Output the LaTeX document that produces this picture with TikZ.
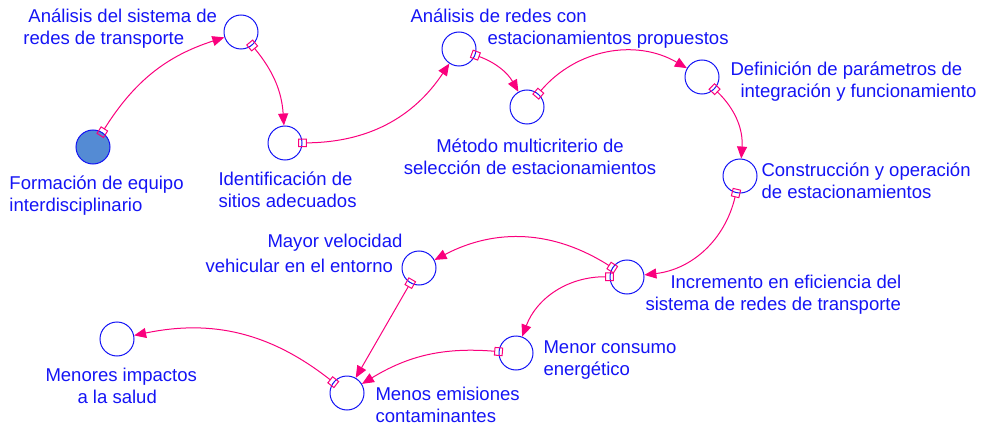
\documentclass[tikz,border=0pt]{standalone}
\usepackage{fontspec}
\setmainfont{Liberation Sans}
\usetikzlibrary{arrows.meta}
\definecolor{vblue}{RGB}{20,20,245}
\definecolor{vpink}{RGB}{250,0,125}
\tikzset{
var/.style={draw=vblue, circle, minimum size=25.5pt, inner sep=0pt, line width=0.75pt},
link/.style={draw=vpink, line width=0.75pt, arrows={Square[open,length=6.5pt,width=6.5pt]-Triangle[length=9pt,width=7.5pt]}, shorten <=-3.25pt},
lbl/.style={font=\fontsize{13.9}{16.5}\selectfont, text=vblue, inner sep=0pt, align=left, anchor=base west}}
\tikzset{every picture/.style={line width=0.75pt}}

\begin{document}
\begin{tikzpicture}[x=0.75pt,y=0.75pt,yscale=-1,xscale=1]
\useasboundingbox (0,0) rectangle (981,424);

%Shape: Circle
\draw (93,147) node [var, fill={rgb,255:red,84;green,139;blue,212}] (equipo) {};
%Shape: Circle
\draw (241,32) node [var] (analisis) {};
%Shape: Circle
\draw (285,143) node [var] (sitios) {};
%Shape: Circle
\draw (459,49) node [var] (redes) {};
%Shape: Circle
\draw (527,107) node [var] (metodo) {};
%Shape: Circle
\draw (702,77) node [var] (param) {};
%Shape: Circle
\draw (740,176) node [var] (constr) {};
%Shape: Circle
\draw (627,277) node [var] (efic) {};
%Shape: Circle
\draw (419,268) node [var] (veloc) {};
%Shape: Circle
\draw (516,353) node [var] (consumo) {};
%Shape: Circle
\draw (347,393) node [var] (emis) {};
%Shape: Circle
\draw (117,339) node [var] (salud) {};

%Curve Lines (yscale=-1 swaps left and right)
\draw [link] (equipo) to [bend right=20] (analisis);
\draw [link] (analisis) to [bend right=18] (sitios);
\draw [link] (sitios) to [bend left=28] (redes);
\draw [link] (redes) to [bend right=20] (metodo);
\draw [link] (metodo) to [bend right=40] (param);
\draw [link] (param) to [bend right=25] (constr);
\draw [link] (constr) to [bend right=35] (efic);
\draw [link] (efic) to [bend left=30] (veloc);
\draw [link] (efic) to [bend left=35] (consumo);
\draw [link] (veloc) -- (emis);
\draw [link] (consumo) to [bend left=18] (emis);
\draw [link] (emis) to [bend left=25] (salud);

% Text Node (anchored at the baseline of the last line)
\draw (9,211) node [lbl] (t_equipo) {Formación de equipo\\interdisciplinario};
% Text Node
\draw (23,45) node [lbl] (t_analisis) {\hspace*{3.75pt}Análisis del sistema de\\redes de transporte};
% Text Node
\draw (218,207) node [lbl] (t_sitios) {Identificación de\\sitios adecuados};
% Text Node
\draw (410,45) node [lbl] (t_redes) {Análisis de redes con\\\hspace*{57.75pt}estacionamientos propuestos};
% Text Node
\draw (530,175) node [lbl, align=center, anchor=base] (t_metodo) {Método multicriterio de\\selección de estacionamientos};
% Text Node
\draw (730,98) node [lbl] (t_param) {Definición de parámetros de\\\hspace*{7.5pt}integración y funcionamiento};
% Text Node
\draw (761,198) node [lbl] (t_constr) {Construcción y operación\\de estacionamientos};
% Text Node
\draw (645,310) node [lbl] (t_efic) {\hspace*{18.75pt}Incremento en eficiencia del\\sistema de redes de transporte};
% Text Node
\draw (205,272) node [lbl] (t_veloc) {\hspace*{46.5pt}Mayor velocidad\\[2pt]vehicular en el entorno};
% Text Node
\draw (543,375) node [lbl] (t_consumo) {Menor consumo\\energético};
% Text Node
\draw (375,422) node [lbl] (t_emis) {Menos emisiones\\contaminantes};
% Text Node
\draw (45,403) node [lbl] (t_salud) {Menores impactos\\\hspace*{24pt}a la salud};

\end{tikzpicture}
\end{document}
